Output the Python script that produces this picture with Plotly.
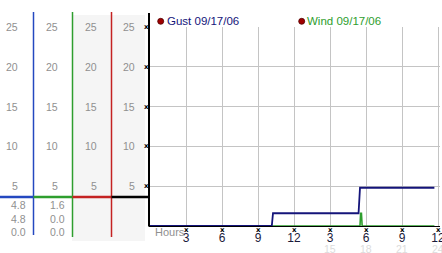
import plotly.graph_objects as go

W, H = 442, 253

# ---- data ----
gust_hours = [0, 10.15, 10.25, 17.38, 17.5, 23.7]
gust_vals = [0, 0, 1.6, 1.6, 4.8, 4.8]
wind_hours = [0, 17.5, 17.55, 17.62, 17.68, 23.7]
wind_vals = [0, 0, 1.6, 1.6, 0, 0]
y_ticks = [5, 10, 15, 20, 25]
x_tickvals = [3, 6, 9, 12, 15, 18, 21, 24]
x_ticktext = ["3", "6", "9", "12", "3", "6", "9", "12"]
x_sub_vals = [15, 18, 21, 24]
x_sub_text = ["15", "18", "21", "24"]
gust_stats = ["4.8", "4.8", "0.0"]
wind_stats = ["1.6", "0.0", "0.0"]
legend_labels = ["Gust 09/17/06", "Wind 09/17/06"]

GUST = "#14147a"
WIND = "#2e9e2e"
BLUE = "#2448c0"
RED = "#c42222"
GRID = "#c4c4c4"
LBL = "#909090"
FONT = "Liberation Sans"


def px(x):
    return x / W


def py(y):
    return 1 - y / H


x0_px, x1_px = 149, 440
hour_px = 12.0
xmin = (x0_px - 150) / hour_px
xmax = (x1_px - 150) / hour_px
ybot_px, ytop_px = 226, 26.5

fig = go.Figure()
fig.add_trace(go.Scatter(x=wind_hours, y=wind_vals, mode="lines",
                         line=dict(color=WIND, width=1.6), cliponaxis=False,
                         hoverinfo="skip"))
fig.add_trace(go.Scatter(x=gust_hours, y=gust_vals, mode="lines",
                         line=dict(color=GUST, width=1.8), cliponaxis=False,
                         hoverinfo="skip"))

shapes = []
# light gray background for columns 3 and 4
shapes.append(dict(type="rect", xref="paper", yref="paper",
                   x0=px(72), x1=px(145), y0=py(241), y1=py(15),
                   fillcolor="#f5f5f5", line=dict(width=0), layer="below"))
# vertical column lines
shapes.append(dict(type="line", xref="paper", yref="paper", x0=px(33.5), x1=px(33.5),
                   y0=py(12), y1=py(235), line=dict(color=BLUE, width=1.5)))
shapes.append(dict(type="line", xref="paper", yref="paper", x0=px(72.5), x1=px(72.5),
                   y0=py(12), y1=py(237), line=dict(color=WIND, width=1.5)))
shapes.append(dict(type="line", xref="paper", yref="paper", x0=px(111.5), x1=px(111.5),
                   y0=py(12), y1=py(237), line=dict(color=RED, width=1.5)))
# horizontal colored segments
for (a, b, c) in [(0, 33.5, BLUE), (33.5, 72.5, WIND), (72.5, 111.5, RED), (111.5, 149, "#000")]:
    shapes.append(dict(type="line", xref="paper", yref="paper", x0=px(a), x1=px(b),
                       y0=py(197), y1=py(197), line=dict(color=c, width=2.5)))
# main black axis line
shapes.append(dict(type="line", xref="paper", yref="paper", x0=px(149), x1=px(149),
                   y0=py(13), y1=py(226.5), line=dict(color="#000", width=2)))
# legend dots
for cx in [160.7, 301.7]:
    shapes.append(dict(type="circle", xref="paper", yref="paper",
                       x0=px(cx - 3), x1=px(cx + 3), y0=py(24.3), y1=py(18.3),
                       fillcolor="#a00000", line=dict(color="#500000", width=0.8)))

ann = []
GLYPH = dict(family="DejaVu Sans", size=7, color="#000")
# tick glyphs
for v in y_ticks:
    ann.append(dict(x=px(146.5), y=v, xref="paper", yref="y", text="<b>x</b>",
                    showarrow=False, xanchor="center", yanchor="middle", font=GLYPH))
for v in x_tickvals:
    ann.append(dict(x=v, y=py(230), xref="x", yref="paper", text="<b>x</b>",
                    showarrow=False, xanchor="center", yanchor="middle", font=GLYPH))
# left panel tick labels
for xr in [20, 60, 99, 137]:
    for v in y_ticks:
        ann.append(dict(x=px(xr), y=v, xref="paper", yref="y", text=str(v),
                        showarrow=False, xanchor="right", yanchor="middle",
                        font=dict(family=FONT, size=10.5, color=LBL)))
for xr, stats in [(27.5, gust_stats), (66.5, wind_stats)]:
    for i, s in enumerate(stats):
        ann.append(dict(x=px(xr), y=py([205, 218.5, 232][i]), xref="paper", yref="paper",
                        text=s, showarrow=False, xanchor="right", yanchor="middle",
                        font=dict(family=FONT, size=10.5, color=LBL)))
# legend texts
for (tx, t, c) in [(164.5, legend_labels[0], GUST), (305, legend_labels[1], WIND)]:
    ann.append(dict(x=px(tx), y=py(21), xref="paper", yref="paper", text=t,
                    showarrow=False, xanchor="left", yanchor="middle",
                    font=dict(family=FONT, size=11.5, color=c)))
# Hours label
ann.append(dict(x=px(152.5), y=py(231.5), xref="paper", yref="paper", text="Hours",
                showarrow=False, xanchor="left", yanchor="middle",
                font=dict(family=FONT, size=11, color=LBL)))
# second row of hour labels
for v, t in zip(x_sub_vals, x_sub_text):
    ann.append(dict(x=v, y=py(249), xref="x", yref="paper", text=t,
                    showarrow=False, xanchor="center", yanchor="middle",
                    font=dict(family=FONT, size=10.5, color="#dcdcdc")))

fig.update_layout(
    width=W, height=H, margin=dict(l=0, r=0, t=0, b=0, autoexpand=False),
    paper_bgcolor="white", plot_bgcolor="white", showlegend=False,
    shapes=shapes, annotations=ann,
    xaxis=dict(domain=[px(x0_px), px(x1_px)], range=[xmin, xmax],
               tickvals=x_tickvals, ticktext=x_ticktext, showgrid=True,
               gridcolor=GRID, gridwidth=1, zeroline=False, showline=True,
               linecolor="#000", linewidth=1, ticks="", ticklabelstandoff=1,
               ticklabeloverflow="allow", automargin=False,
               tickfont=dict(family=FONT, size=12, color="#1a1a3a")),
    yaxis=dict(domain=[py(ybot_px), py(ytop_px)], range=[0, 25.05],
               tickvals=y_ticks, showticklabels=False, showgrid=True,
               gridcolor=GRID, gridwidth=1, zeroline=False, showline=False,
               ticks="", automargin=False),
)

fig.write_html("out.html")
